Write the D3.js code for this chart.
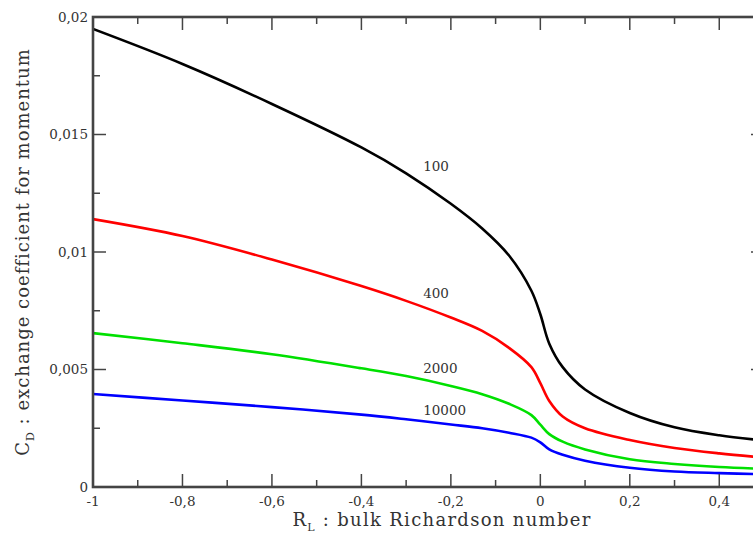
<!DOCTYPE html>
<html>
<head>
<meta charset="utf-8">
<script src="https://cdn.jsdelivr.net/npm/d3@7"></script>
<style>
  html, body { margin: 0; padding: 0; background: #fff; overflow: hidden; }
  svg { display: block; }
  text { font-family: "DejaVu Serif", "Liberation Serif", serif; fill: #333; }
</style>
</head>
<body>
<div id="chart"></div>
<script>
// bulk Richardson number (x)
const richardson = [-1, -0.8, -0.6, -0.4, -0.3, -0.2, -0.13, -0.07, -0.02, 0, 0.02, 0.05, 0.1, 0.2, 0.3, 0.4, 0.5];

// exchange coefficient for momentum, one series per z/z0
const cd100   = [0.01949, 0.01800, 0.01630, 0.01445, 0.01335, 0.01205, 0.01100, 0.00985, 0.00835, 0.00735, 0.00610, 0.00510, 0.00415, 0.00315, 0.00254, 0.00220, 0.00198];
const cd400   = [0.01140, 0.01068, 0.00968, 0.00855, 0.00792, 0.00721, 0.00664, 0.00592, 0.00510, 0.00442, 0.00366, 0.00300, 0.00250, 0.00200, 0.00166, 0.00143, 0.00125];
const cd2000  = [0.00655, 0.00612, 0.00565, 0.00505, 0.00472, 0.00430, 0.00395, 0.00354, 0.00306, 0.00265, 0.00225, 0.00193, 0.00160, 0.00118, 0.00098, 0.00085, 0.00077];
const cd10000 = [0.00396, 0.00368, 0.00340, 0.00308, 0.00288, 0.00266, 0.00250, 0.00231, 0.00210, 0.00190, 0.00160, 0.00137, 0.00112, 0.00082, 0.00066, 0.00059, 0.00054];

const seriesNames  = ['100', '400', '2000', '10000'];
const seriesColors = ['#000000', '#ff0000', '#00e000', '#0000ff'];
const seriesValues = [cd100, cd400, cd2000, cd10000];
// where each label sits (data coords)
const labelX = [-0.262, -0.262, -0.262, -0.262];
const labelY = [0.01345, 0.00805, 0.00485, 0.00306];

const xTicks = [-1, -0.8, -0.6, -0.4, -0.2, 0, 0.2, 0.4];
const yTicks = [0, 0.005, 0.01, 0.015, 0.02];

const WIDTH = 753, HEIGHT = 541;
const margin = { left: 93, top: 17, right: 764, bottom: 487 };
const MAJOR = 13, MINOR = 7;

const fmt = v => (v === 0 ? '0' : String(+v.toFixed(3)).replace('.', ','));

const x = d3.scaleLinear().domain([-1, 0.5]).range([margin.left, margin.right]);
const y = d3.scaleLinear().domain([0, 0.02]).range([margin.bottom, margin.top]);

const svg = d3.select('#chart').append('svg')
    .attr('width', WIDTH)
    .attr('height', HEIGHT);

svg.append('defs').append('clipPath').attr('id', 'plot-clip')
    .append('rect')
    .attr('x', margin.left).attr('y', margin.top)
    .attr('width', margin.right - margin.left)
    .attr('height', margin.bottom - margin.top);

// curves
const line = d3.line()
    .x((d, i) => x(richardson[i]))
    .y(d => y(d))
    .curve(d3.curveCatmullRom.alpha(0.5));

const curves = svg.append('g').attr('clip-path', 'url(#plot-clip)');
seriesValues.forEach((values, i) => {
    curves.append('path')
        .attr('d', line(values))
        .attr('fill', 'none')
        .attr('stroke', seriesColors[i])
        .attr('stroke-width', 2.6);
});

// curve labels
seriesNames.forEach((name, i) => {
    svg.append('text')
        .attr('x', x(labelX[i]))
        .attr('y', y(labelY[i]))
        .attr('font-size', 13.5)
        .text(name);
});

// frame + ticks (inward, mirrored on all four sides)
const axisColor = '#444';
const frame = svg.append('g');
frame.append('rect')
    .attr('x', margin.left).attr('y', margin.top)
    .attr('width', margin.right - margin.left)
    .attr('height', margin.bottom - margin.top)
    .attr('fill', 'none')
    .attr('stroke', axisColor)
    .attr('stroke-width', 2.6);

const xMinor = d3.range(-1, 0.5001, 0.1);
const yMinor = d3.range(0, 0.02001, 0.0025);

xMinor.forEach(v => {
    const isMajor = xTicks.some(t => Math.abs(t - v) < 1e-6) || Math.abs(v - 0.5) < 1e-6;
    const len = isMajor ? MAJOR : MINOR;
    frame.append('line').attr('x1', x(v)).attr('x2', x(v))
        .attr('y1', margin.bottom).attr('y2', margin.bottom - len)
        .attr('stroke', axisColor).attr('stroke-width', 1.5);
    frame.append('line').attr('x1', x(v)).attr('x2', x(v))
        .attr('y1', margin.top).attr('y2', margin.top + len)
        .attr('stroke', axisColor).attr('stroke-width', 1.5);
});
yMinor.forEach(v => {
    const isMajor = yTicks.some(t => Math.abs(t - v) < 1e-9);
    const len = isMajor ? MAJOR : MINOR;
    frame.append('line').attr('y1', y(v)).attr('y2', y(v))
        .attr('x1', margin.left).attr('x2', margin.left + len)
        .attr('stroke', axisColor).attr('stroke-width', 1.5);
    frame.append('line').attr('y1', y(v)).attr('y2', y(v))
        .attr('x1', margin.right).attr('x2', margin.right - len)
        .attr('stroke', axisColor).attr('stroke-width', 1.5);
});

// tick labels
svg.append('g').selectAll('text').data(xTicks).join('text')
    .attr('x', d => x(d))
    .attr('y', margin.bottom + 19)
    .attr('text-anchor', 'middle')
    .attr('font-size', 13.5)
    .text(fmt);

svg.append('g').selectAll('text').data(yTicks).join('text')
    .attr('x', margin.left - 5)
    .attr('y', d => y(d))
    .attr('dy', '0.35em')
    .attr('text-anchor', 'end')
    .attr('font-size', 13.5)
    .text(fmt);

// axis titles
const xTitle = svg.append('text')
    .attr('x', 442)
    .attr('y', 526)
    .attr('text-anchor', 'middle')
    .attr('font-size', 18)
    .attr('letter-spacing', 1.3);
xTitle.append('tspan').text('R');
xTitle.append('tspan').attr('font-size', 11).attr('dy', 5).text('L');
xTitle.append('tspan').attr('dy', -5).text(' : bulk Richardson number');

const yTitle = svg.append('text')
    .attr('transform', `translate(29,${(margin.top + margin.bottom) / 2}) rotate(-90)`)
    .attr('text-anchor', 'middle')
    .attr('font-size', 18)
    .attr('letter-spacing', 1);
yTitle.append('tspan').text('C');
yTitle.append('tspan').attr('font-size', 11).attr('dy', 5).text('D');
yTitle.append('tspan').attr('dy', -5).text(' : exchange coefficient for momentum');
</script>
</body>
</html>
